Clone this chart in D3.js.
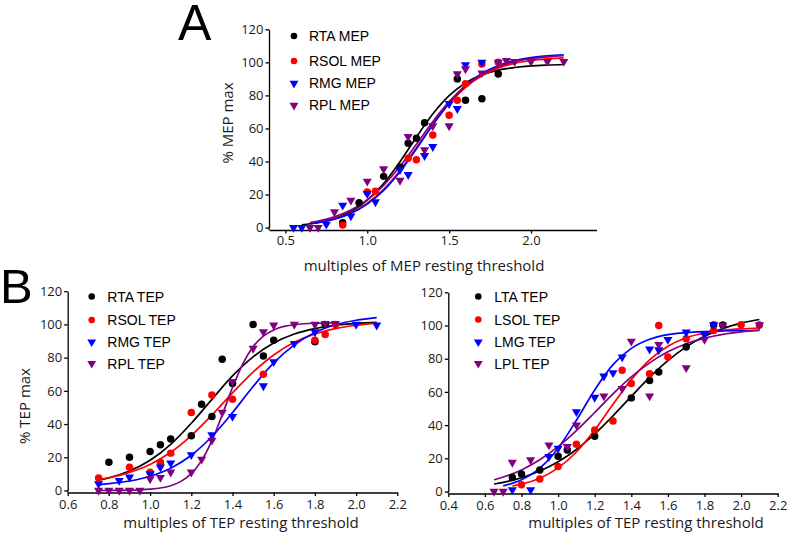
<!DOCTYPE html>
<html><head><meta charset="utf-8">
<script src="https://cdn.jsdelivr.net/npm/d3@7"></script>
<style>body{margin:0;background:#fff;} svg{display:block}</style>
</head><body>
<svg id="c" width="789" height="536"></svg>
<script>
// ---------- tick labels ----------
const yTicks = [0, 20, 40, 60, 80, 100, 120];
const xTicksA = [0.5, 1.0, 1.5, 2.0];
const xTicksBL = [0.6, 0.8, 1.0, 1.2, 1.4, 1.6, 1.8, 2.0, 2.2];
const xTicksBR = [0.4, 0.6, 0.8, 1.0, 1.2, 1.4, 1.6, 1.8, 2.0, 2.2];

// ---------- Panel A: MEP data points [multiple, % max] ----------
const rtaMEP = [[0.85,3],[0.95,15],[1.1,31],[1.2,36.5],[1.25,51],[1.3,54],[1.35,63.5],[1.55,90],[1.6,77],[1.7,78],[1.8,93]];
const rsolMEP = [[0.85,1.5],[1.0,21.5],[1.05,22],[1.25,42],[1.3,41],[1.4,56],[1.5,68],[1.55,77],[1.6,87],[1.7,99],[1.8,100]];
const rmgMEP = [[0.55,0],[0.6,0],[0.75,2],[0.85,13.5],[0.9,7],[1.0,20.5],[1.05,15.5],[1.2,35],[1.25,32],[1.35,43.5],[1.4,49],[1.5,75],[1.55,72],[1.6,98.5],[1.7,100]];
const rplMEP = [[0.65,0],[0.7,0],[0.8,9.5],[0.9,16.5],[1.0,28],[1.1,35.5],[1.2,28.5],[1.25,55],[1.35,47],[1.4,61.5],[1.5,61.5],[1.55,93],[1.6,96],[1.7,93.5],[1.8,100],[1.85,101],[1.9,100.5],[2.0,100.5],[2.1,100.5],[2.2,100.5]];

// fitted curves
const fitRtaMEP = [[0.6,1.7],[0.7,3.1],[0.8,5.6],[0.9,9.8],[1.0,16.6],[1.1,26.6],[1.2,39.9],[1.3,54.7],[1.4,68.7],[1.5,79.8],[1.6,87.5],[1.7,92.4],[1.8,95.3],[1.9,96.9],[2.0,97.9],[2.1,98.4],[2.2,98.7]];
const fitRsolMEP = [[0.65,2.4],[0.7,3.2],[0.8,5.4],[0.9,9.0],[1.0,14.8],[1.1,23.2],[1.2,34.6],[1.3,48.2],[1.4,62.3],[1.5,75.0],[1.6,84.9],[1.7,91.9],[1.8,96.5],[1.9,99.4],[2.0,101.1],[2.1,102.1],[2.2,102.7]];
const fitRmgMEP = [[0.65,2.3],[0.7,3.0],[0.8,5.1],[0.9,8.6],[1.0,14.2],[1.1,22.5],[1.2,33.8],[1.3,47.6],[1.4,62.2],[1.5,75.4],[1.6,85.8],[1.7,93.2],[1.8,98.1],[1.9,101.1],[2.0,102.9],[2.1,104.0],[2.2,104.6]];
const fitRplMEP = [[0.65,3.1],[0.7,4.0],[0.8,6.6],[0.9,10.6],[1.0,16.8],[1.1,25.6],[1.2,37.1],[1.3,50.4],[1.4,64.1],[1.5,76.2],[1.6,85.9],[1.7,92.8],[1.8,97.4],[1.9,100.4],[2.0,102.2],[2.1,103.3],[2.2,104.0]];

// ---------- Panel B left: right-side TEP ----------
const rtaTEP = [[0.8,17],[0.9,20],[1.0,23.5],[1.05,27.5],[1.1,31],[1.2,33],[1.25,52],[1.3,44.5],[1.35,79],[1.4,64.5],[1.5,100],[1.55,81],[1.6,90.5],[1.8,89.5],[1.85,100]];
const rsolTEP = [[0.75,7.5],[0.9,14],[1.0,11],[1.05,17],[1.1,22.5],[1.2,47],[1.3,57.5],[1.4,55],[1.55,70],[1.8,90.5],[1.85,94],[1.9,100]];
const rmgTEP = [[0.75,4],[0.85,6],[0.9,8],[1.0,10],[1.05,14],[1.1,16.5],[1.2,21.5],[1.3,33.5],[1.4,44.5],[1.55,63],[1.6,77.5],[1.7,88.5],[1.8,95.5],[2.0,100],[2.1,99.5]];
const rplTEP = [[0.75,0],[0.8,0],[0.85,0],[0.9,0],[0.95,0],[1.0,7],[1.05,7.8],[1.1,11],[1.2,11],[1.25,18.8],[1.3,30.2],[1.35,47],[1.4,65.5],[1.5,85.5],[1.55,95.5],[1.6,99.5],[1.7,100],[1.8,100],[1.85,100.5],[1.9,100.5]];

const fitRtaTEP = [[0.75,6.2],[0.8,7.6],[0.9,11.7],[1.0,18.2],[1.1,27.8],[1.2,40.5],[1.3,54.9],[1.4,69.0],[1.5,80.5],[1.6,88.8],[1.7,94.2],[1.8,97.5],[1.9,99.5],[2.0,100.6],[2.1,101.2]];
const fitRsolTEP = [[0.75,6.6],[0.8,7.7],[0.9,10.8],[1.0,15.7],[1.1,23.0],[1.2,33.1],[1.3,45.4],[1.4,58.8],[1.5,71.3],[1.6,81.6],[1.7,89.2],[1.8,94.3],[1.9,97.5],[2.0,99.5],[2.1,100.8]];
const fitRmgTEP = [[0.75,3.5],[0.8,4.1],[0.9,5.7],[1.0,8.6],[1.1,13.4],[1.2,21.2],[1.3,32.5],[1.4,46.9],[1.5,62.6],[1.6,76.8],[1.7,87.7],[1.8,95.2],[1.9,99.8],[2.0,102.5],[2.1,104.1]];
const fitRplTEP = [[0.75,0.0],[0.8,0.1],[0.85,0.1],[0.9,0.2],[0.95,0.4],[1.0,0.8],[1.05,1.5],[1.1,2.9],[1.15,5.5],[1.2,10.2],[1.25,18.0],[1.3,30.0],[1.35,45.5],[1.4,62.0],[1.45,76.3],[1.5,86.6],[1.55,93.0],[1.6,96.7],[1.65,98.8],[1.7,99.8],[1.8,100.7],[1.9,100.9]];

// ---------- Panel B right: left-side TEP ----------
const ltaTEP = [[0.75,8.5],[0.8,10.5],[0.9,13],[1.0,21.3],[1.05,25],[1.2,33.3],[1.4,56.4],[1.5,66.8],[1.55,72],[1.7,87],[1.85,100.3],[1.9,100.3]];
const lsolTEP = [[0.8,4],[0.9,7.5],[1.0,15],[1.1,28.5],[1.2,37],[1.3,42.5],[1.35,73],[1.4,65],[1.5,71],[1.55,100],[1.6,81],[1.7,92],[1.85,97],[2.0,100.5],[2.1,100.3]];
const lmgTEP = [[0.75,1],[0.85,1],[0.95,21],[1.0,26],[1.1,48],[1.2,56.7],[1.25,69.5],[1.3,71.5],[1.35,81],[1.5,85.7],[1.55,85.3],[1.6,91.5],[1.7,96],[1.8,94.5],[1.85,100.3]];
const lplTEP = [[0.65,0],[0.7,0],[0.75,17.5],[0.85,19],[0.95,28],[1.05,27],[1.1,40],[1.25,57.5],[1.35,62],[1.4,90.5],[1.5,57.5],[1.55,88.5],[1.7,74.5],[1.8,91.5],[1.9,100],[2.1,100.3]];

const fitLtaTEP = [[0.65,4.5],[0.7,5.5],[0.8,8.3],[0.9,12.3],[1.0,17.9],[1.1,25.3],[1.2,34.7],[1.3,45.6],[1.4,57.3],[1.5,68.7],[1.6,78.8],[1.7,87.1],[1.8,93.5],[1.9,98.1],[2.0,101.4],[2.1,103.6]];
const fitLsolTEP = [[0.75,3.3],[0.8,4.4],[0.9,8.0],[1.0,14.2],[1.1,23.8],[1.2,37.0],[1.3,52.5],[1.4,67.4],[1.5,79.3],[1.6,87.5],[1.7,92.6],[1.8,95.5],[1.9,97.1],[2.0,98.0],[2.1,98.5]];
const fitLmgTEP = [[0.7,3.4],[0.8,7.1],[0.9,14.1],[1.0,26.1],[1.1,42.9],[1.2,61.2],[1.3,76.4],[1.4,86.2],[1.5,91.7],[1.6,94.5],[1.7,95.8],[1.8,96.4],[1.9,96.7],[2.0,96.9],[2.1,97.0]];
const fitLplTEP = [[0.65,7.1],[0.7,8.7],[0.8,13.0],[0.9,19.1],[1.0,27.0],[1.1,36.7],[1.2,47.6],[1.3,58.8],[1.4,69.0],[1.5,77.5],[1.6,84.2],[1.7,89.0],[1.8,92.4],[1.9,94.7],[2.0,96.2],[2.1,97.2]];

// ---------- drawing ----------
const COL = {black:"#000000", red:"#ff0000", blue:"#0000ff", purple:"#800080"};
const svg = d3.select("#c");
const TICKFONT = "'Open Sans', sans-serif";
const LEGFONT = "'Liberation Sans', Arial, sans-serif";

function drawPanel(cfg) {
  const x = d3.scaleLinear().domain(cfg.xDomain).range(cfg.xRange);
  const y = d3.scaleLinear().domain([0, 120]).range(cfg.yRange);
  const g = svg.append("g");

  // axes
  const gx = g.append("g").attr("transform", `translate(0,${cfg.axisY})`)
    .call(d3.axisBottom(x).tickValues(cfg.xTicks).tickSize(3.5).tickSizeOuter(0)
      .tickPadding(cfg.xPad).tickFormat(d3.format(".1f")));
  const gy = g.append("g").attr("transform", `translate(${cfg.xRange[0]},0)`)
    .call(d3.axisLeft(y).tickValues(yTicks).tickSize(3.5).tickSizeOuter(0).tickPadding(2));
  g.append("line").attr("x1", cfg.xRange[0]).attr("x2", cfg.xRange[0])
    .attr("y1", y(0)).attr("y2", cfg.axisY).attr("stroke", "#000").attr("stroke-width", 1.3);
  [gx, gy].forEach(a => {
    a.selectAll("path,line").attr("stroke", "#000").attr("stroke-width", 1.3);
    a.selectAll("text").attr("font-family", TICKFONT).attr("font-size", 13).attr("fill", "#1a1a1a");
  });

  // curves
  const line = d3.line().x(d => x(d[0])).y(d => y(d[1])).curve(d3.curveMonotoneX);
  cfg.series.forEach(s => {
    g.append("path").attr("d", line(s.fit)).attr("fill", "none")
      .attr("stroke", s.color).attr("stroke-width", 1.7);
  });
  // points
  const circ = d3.symbol().type(d3.symbolCircle).size(44)();
  const tri = d3.symbol().type(d3.symbolTriangle).size(36)();
  cfg.series.forEach(s => {
    g.append("g").selectAll("path").data(s.pts).join("path")
      .attr("d", s.shape === "circle" ? circ : tri)
      .attr("transform", d => `translate(${x(d[0])},${y(d[1])})` + (s.shape === "circle" ? "" : " rotate(180)"))
      .attr("fill", s.color);
  });

  // legend
  const lcirc = d3.symbol().type(d3.symbolCircle).size(34)();
  const ltri = d3.symbol().type(d3.symbolTriangle).size(34)();
  cfg.series.forEach((s, i) => {
    const ry = cfg.legend.rows[i];
    g.append("path").attr("d", s.shape === "circle" ? lcirc : ltri)
      .attr("transform", `translate(${cfg.legend.mx},${ry})` + (s.shape === "circle" ? "" : " rotate(180)"))
      .attr("fill", s.color);
    g.append("text").attr("x", cfg.legend.tx).attr("y", ry).attr("dy", "0.36em")
      .attr("font-family", LEGFONT).attr("font-size", 14).attr("fill", "#000").text(s.name);
  });

  // titles
  g.append("text").attr("x", cfg.xTitle.x).attr("y", cfg.xTitle.y).attr("dy", "0.35em")
    .attr("text-anchor", "middle").attr("font-family", TICKFONT).attr("font-size", 15)
    .attr("fill", "#1a1a1a").text(cfg.xTitle.text);
  if (cfg.yTitle) {
    g.append("text").attr("transform", `translate(${cfg.yTitle.x},${cfg.yTitle.y}) rotate(-90)`)
      .attr("dy", "0.35em").attr("text-anchor", "middle").attr("font-family", TICKFONT)
      .attr("font-size", 15).attr("fill", "#1a1a1a").text(cfg.yTitle.text);
  }
}

drawPanel({
  xDomain: [0.4, 2.4], xRange: [269, 596.5], yRange: [227.6, 29.3], axisY: 230,
  xTicks: xTicksA, xPad: 2,
  series: [
    {name: "RTA MEP", pts: rtaMEP, fit: fitRtaMEP, color: COL.black, shape: "circle"},
    {name: "RSOL MEP", pts: rsolMEP, fit: fitRsolMEP, color: COL.red, shape: "circle"},
    {name: "RMG MEP", pts: rmgMEP, fit: fitRmgMEP, color: COL.blue, shape: "tri"},
    {name: "RPL MEP", pts: rplMEP, fit: fitRplMEP, color: COL.purple, shape: "tri"}
  ],
  legend: {mx: 294, tx: 309, rows: [36, 61, 83.3, 105.3]},
  xTitle: {text: "multiples of MEP resting threshold", x: 424, y: 266},
  yTitle: {text: "% MEP max", x: 228, y: 123}
});

drawPanel({
  xDomain: [0.6, 2.2], xRange: [67.7, 397.3], yRange: [490.5, 291.2], axisY: 492.5,
  xTicks: xTicksBL, xPad: 3.5,
  series: [
    {name: "RTA TEP", pts: rtaTEP, fit: fitRtaTEP, color: COL.black, shape: "circle"},
    {name: "RSOL TEP", pts: rsolTEP, fit: fitRsolTEP, color: COL.red, shape: "circle"},
    {name: "RMG TEP", pts: rmgTEP, fit: fitRmgTEP, color: COL.blue, shape: "tri"},
    {name: "RPL TEP", pts: rplTEP, fit: fitRplTEP, color: COL.purple, shape: "tri"}
  ],
  legend: {mx: 91.7, tx: 107.3, rows: [296.5, 320, 342, 363.5]},
  xTitle: {text: "multiples of TEP resting threshold", x: 241, y: 523},
  yTitle: {text: "% TEP max", x: 25, y: 406}
});

drawPanel({
  xDomain: [0.4, 2.2], xRange: [448.3, 777.7], yRange: [491.5, 292.3], axisY: 493.5,
  xTicks: xTicksBR, xPad: 3.5,
  series: [
    {name: "LTA TEP", pts: ltaTEP, fit: fitLtaTEP, color: COL.black, shape: "circle"},
    {name: "LSOL TEP", pts: lsolTEP, fit: fitLsolTEP, color: COL.red, shape: "circle"},
    {name: "LMG TEP", pts: lmgTEP, fit: fitLmgTEP, color: COL.blue, shape: "tri"},
    {name: "LPL TEP", pts: lplTEP, fit: fitLplTEP, color: COL.purple, shape: "tri"}
  ],
  legend: {mx: 478.3, tx: 494.3, rows: [296.5, 319.5, 342, 363.5]},
  xTitle: {text: "multiples of TEP resting threshold", x: 646, y: 523},
  yTitle: null
});

// panel letters
svg.append("text").attr("x", 178).attr("y", 40).attr("font-family", LEGFONT)
  .attr("font-size", 50).attr("fill", "#000").text("A");
svg.append("text").attr("x", 0).attr("y", 303).attr("font-family", LEGFONT)
  .attr("font-size", 49).attr("fill", "#000").text("B");
</script>
</body></html>
